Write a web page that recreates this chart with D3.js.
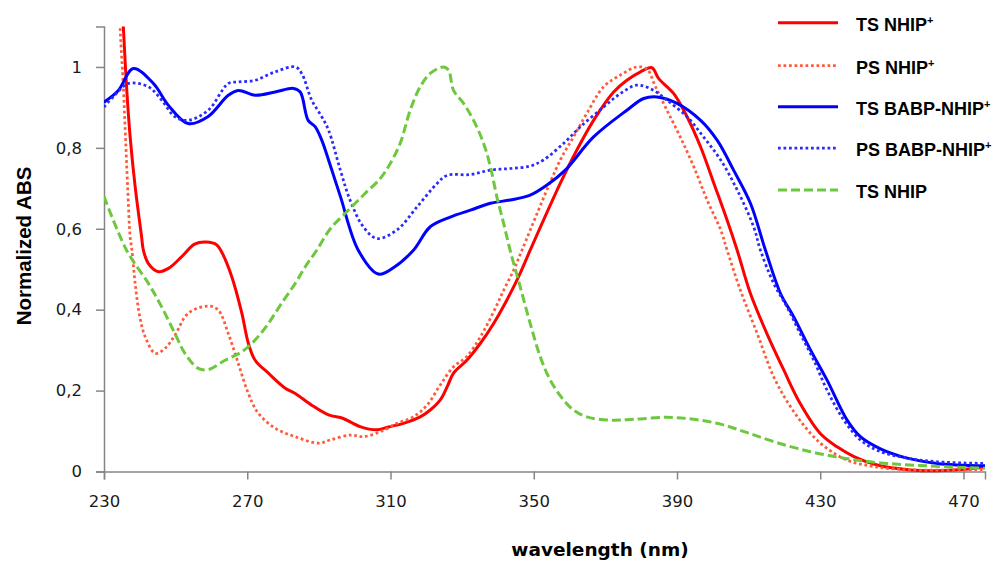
<!DOCTYPE html>
<html>
<head>
<meta charset="utf-8">
<script src="https://cdn.jsdelivr.net/npm/d3@7"></script>
<style>
  html, body { margin: 0; padding: 0; background: #ffffff; }
  svg { display: block; }
</style>
</head>
<body>
<svg id="chart" width="995" height="563"></svg>
<script>
// ---- data (wavelength nm, normalized absorbance) ----
const tsNhipPlus = [[235.1,1.15],[235.4,1.099],[236.3,0.951],[237.3,0.827],[238.7,0.704],[240.5,0.58],[241.0,0.547],[242.4,0.514],[245.2,0.494],[248.0,0.502],[251.7,0.531],[255.3,0.562],[258.5,0.567],[261.5,0.56],[263.0,0.54],[265.7,0.481],[268.5,0.391],[270.3,0.317],[272.2,0.275],[275.9,0.243],[280.6,0.206],[283.4,0.193],[288.0,0.164],[292.7,0.14],[296.8,0.131],[301.5,0.111],[306.2,0.103],[309.4,0.11],[313.6,0.119],[318.3,0.135],[321.1,0.152],[323.9,0.177],[325.8,0.209],[327.6,0.243],[331.3,0.275],[335.1,0.317],[338.8,0.366],[342.5,0.424],[346.2,0.49],[349.0,0.547],[357.4,0.712],[362.0,0.794],[366.7,0.868],[372.3,0.938],[376.0,0.967],[379.8,0.988],[383.0,0.998],[384.9,0.971],[389.1,0.934],[392.8,0.877],[396.6,0.802],[400.3,0.712],[404.0,0.621],[406.8,0.547],[410.5,0.44],[415.1,0.341],[419.8,0.251],[424.4,0.168],[430.0,0.094],[434.7,0.061],[439.4,0.037],[445.9,0.016],[455.2,0.004],[462.7,0.002],[469.6,0.005],[476.0,0.012]];
const psNhipPlus = [[234.4,1.15],[234.5,1.099],[235.4,0.951],[236.0,0.827],[236.6,0.704],[237.3,0.58],[237.8,0.547],[238.7,0.465],[240.0,0.382],[241.5,0.333],[244.3,0.292],[247.0,0.304],[249.8,0.337],[253.5,0.391],[259.1,0.409],[261.9,0.399],[264.7,0.341],[267.5,0.267],[270.3,0.193],[273.1,0.144],[277.8,0.107],[283.4,0.086],[289.9,0.07],[293.2,0.078],[298.8,0.09],[302.4,0.086],[307.1,0.098],[311.8,0.119],[316.4,0.135],[320.2,0.164],[323.9,0.214],[327.6,0.259],[331.3,0.284],[335.1,0.333],[338.8,0.395],[341.6,0.448],[344.4,0.498],[346.7,0.547],[357.4,0.77],[361.1,0.827],[364.8,0.885],[369.5,0.951],[374.2,0.98],[378.8,1.0],[381.6,0.995],[384.0,0.951],[387.2,0.893],[390.9,0.827],[394.7,0.753],[398.4,0.671],[402.2,0.597],[404.0,0.547],[407.7,0.448],[412.4,0.341],[417.0,0.234],[421.7,0.16],[427.3,0.094],[431.9,0.057],[437.5,0.028],[445.0,0.012],[455.2,0.004],[476.0,0.005]];
const tsBabpNhipPlus = [[230.0,0.913],[234.0,0.942],[238.2,0.996],[243.8,0.959],[248.0,0.905],[253.5,0.86],[259.0,0.877],[264.7,0.93],[267.5,0.942],[272.2,0.93],[277.8,0.938],[282.9,0.947],[284.8,0.938],[287.0,0.868],[289.0,0.852],[290.8,0.819],[292.7,0.77],[296.0,0.68],[301.0,0.547],[306.6,0.488],[311.0,0.505],[316.4,0.547],[321.1,0.605],[326.7,0.629],[332.3,0.646],[337.9,0.663],[343.4,0.671],[349.0,0.683],[353.7,0.708],[358.8,0.745],[366.7,0.827],[376.0,0.893],[380.7,0.922],[384.4,0.926],[390.0,0.91],[396.6,0.868],[401.2,0.819],[405.8,0.745],[410.5,0.663],[414.7,0.547],[418.9,0.44],[422.6,0.382],[427.3,0.3],[431.9,0.226],[437.5,0.127],[441.2,0.086],[446.8,0.056],[454.3,0.033],[462.7,0.02],[476.0,0.014]];
const psBabpNhipPlus = [[230.0,0.901],[233.0,0.93],[236.8,0.959],[242.4,0.951],[246.1,0.918],[249.8,0.877],[253.5,0.868],[259.1,0.893],[264.7,0.959],[267.5,0.963],[272.2,0.967],[277.8,0.988],[283.4,1.0],[285.2,0.984],[288.0,0.918],[290.8,0.877],[292.7,0.844],[296.0,0.745],[298.7,0.671],[302.4,0.605],[306.2,0.576],[311.8,0.597],[317.4,0.654],[323.0,0.712],[325.8,0.732],[332.3,0.734],[337.9,0.745],[343.4,0.749],[349.0,0.755],[352.7,0.77],[358.8,0.815],[363.0,0.852],[369.5,0.901],[374.2,0.934],[378.8,0.955],[383.5,0.942],[387.2,0.918],[392.8,0.877],[397.4,0.827],[402.2,0.77],[406.8,0.696],[411.4,0.605],[413.3,0.547],[417.0,0.465],[420.7,0.407],[424.4,0.341],[428.2,0.275],[431.9,0.201],[436.6,0.127],[441.2,0.078],[446.8,0.049],[454.3,0.033],[462.7,0.024],[476.0,0.02]];
const tsNhip = [[230.0,0.68],[236.3,0.547],[242.4,0.465],[246.1,0.407],[249.8,0.341],[252.6,0.292],[256.3,0.255],[259.1,0.252],[263.8,0.275],[268.5,0.296],[272.2,0.325],[275.9,0.366],[279.6,0.416],[283.4,0.465],[286.2,0.506],[289.4,0.547],[293.2,0.6],[297.8,0.642],[302.4,0.683],[307.1,0.724],[309.9,0.761],[312.7,0.811],[315.5,0.893],[318.3,0.951],[321.1,0.984],[324.8,1.0],[326.2,0.992],[327.6,0.942],[330.4,0.91],[333.2,0.868],[336.0,0.811],[337.9,0.753],[339.7,0.679],[341.6,0.613],[343.4,0.547],[346.2,0.457],[349.0,0.366],[351.8,0.284],[354.6,0.226],[358.3,0.177],[361.1,0.152],[364.8,0.135],[371.4,0.127],[377.9,0.129],[387.2,0.134],[394.7,0.129],[402.2,0.117],[409.6,0.096],[418.0,0.071],[427.3,0.049],[436.6,0.033],[445.9,0.022],[459.9,0.014],[476.0,0.008]];

const seriesNames = ["TS NHIP", "PS NHIP", "TS BABP-NHIP", "PS BABP-NHIP", "TS NHIP"];
const seriesSup = ["+", "+", "+", "+", ""];
const xTicks = [230, 270, 310, 350, 390, 430, 470];
const yTicks = [0, 0.2, 0.4, 0.6, 0.8, 1];
const xLabel = "wavelength (nm)";
const yLabel = "Normalized ABS";

// ---- styles ----
const styles = [
  { data: tsNhipPlus,     color: "#ff0000", width: 3,    dash: null },
  { data: psNhipPlus,     color: "#ff5a3a", width: 2.75, dash: "2.75,2.75" },
  { data: tsBabpNhipPlus, color: "#0000ff", width: 3,    dash: null },
  { data: psBabpNhipPlus, color: "#2a2aff", width: 2.75, dash: "2.75,2.75" },
  { data: tsNhip,         color: "#6ec83e", width: 3,    dash: "9,4" }
];

const svg = d3.select("#chart");
const x = d3.scaleLinear().domain([230, 476]).range([104, 985]);
const y = d3.scaleLinear().domain([0, 1.1]).range([471.5, 26.5]);
const axisColor = "#868686";

svg.append("defs").append("clipPath").attr("id", "plotclip")
  .append("rect").attr("x", x(230)).attr("y", y(1.1))
  .attr("width", x(476) - x(230) + 2).attr("height", y(0) - y(1.1) + 2);

// axes
const fmt = d => d === 0 ? "0" : (d === 1 ? "1" : String(d).replace(".", ","));
const yAxis = svg.append("g").attr("transform", `translate(${x(230)},0)`)
  .call(d3.axisLeft(y).tickValues(yTicks).tickSize(8).tickPadding(14).tickFormat(fmt));
const xAxis = svg.append("g").attr("transform", `translate(0,${y(0)})`)
  .call(d3.axisBottom(x).tickValues(xTicks).tickSize(8).tickPadding(16).tickFormat(d3.format("d")));
[xAxis, yAxis].forEach(g => {
  g.select(".domain").attr("stroke", axisColor).attr("stroke-width", 1.5);
  g.selectAll(".tick line").attr("stroke", axisColor).attr("stroke-width", 1.5);
  g.selectAll(".tick text").attr("fill", "#1a1a1a")
    .style("font-family", "'DejaVu Sans', sans-serif").style("font-size", "16.5px");
});

// lines
const line = d3.line().x(d => x(d[0])).y(d => y(d[1])).curve(d3.curveCatmullRom.alpha(0.5));
const plot = svg.append("g").attr("clip-path", "url(#plotclip)");
styles.forEach(s => {
  plot.append("path").datum(s.data)
    .attr("fill", "none").attr("stroke", s.color).attr("stroke-width", s.width)
    .attr("stroke-dasharray", s.dash).attr("stroke-linejoin", "round")
    .attr("d", line);
});

// axis titles
svg.append("text").attr("x", 600).attr("y", 556)
  .attr("text-anchor", "middle").attr("fill", "#000")
  .style("font-family", "'DejaVu Sans', sans-serif").style("font-weight", "bold").style("font-size", "18.5px")
  .text(xLabel);
svg.append("text").attr("transform", "translate(31,246) rotate(-90)")
  .attr("text-anchor", "middle").attr("fill", "#000")
  .style("font-family", "'Liberation Sans', Arial, sans-serif").style("font-weight", "bold").style("font-size", "20.5px")
  .text(yLabel);

// legend
const legRows = [22.7, 65.7, 106.7, 148, 190];
const leg = svg.append("g");
styles.forEach((s, i) => {
  const ly = legRows[i];
  leg.append("line").attr("x1", 778).attr("x2", 838).attr("y1", ly).attr("y2", ly)
    .attr("stroke", s.color).attr("stroke-width", s.width).attr("stroke-dasharray", s.dash);
  const t = leg.append("text").attr("x", 856).attr("y", ly + 8).attr("fill", "#000")
    .style("font-family", "'Liberation Sans', Arial, sans-serif").style("font-weight", "bold").style("font-size", "18px");
  t.append("tspan").text(seriesNames[i]);
  if (seriesSup[i]) t.append("tspan").attr("dy", -7).style("font-size", "11px").text(seriesSup[i]);
});
</script>
</body>
</html>
